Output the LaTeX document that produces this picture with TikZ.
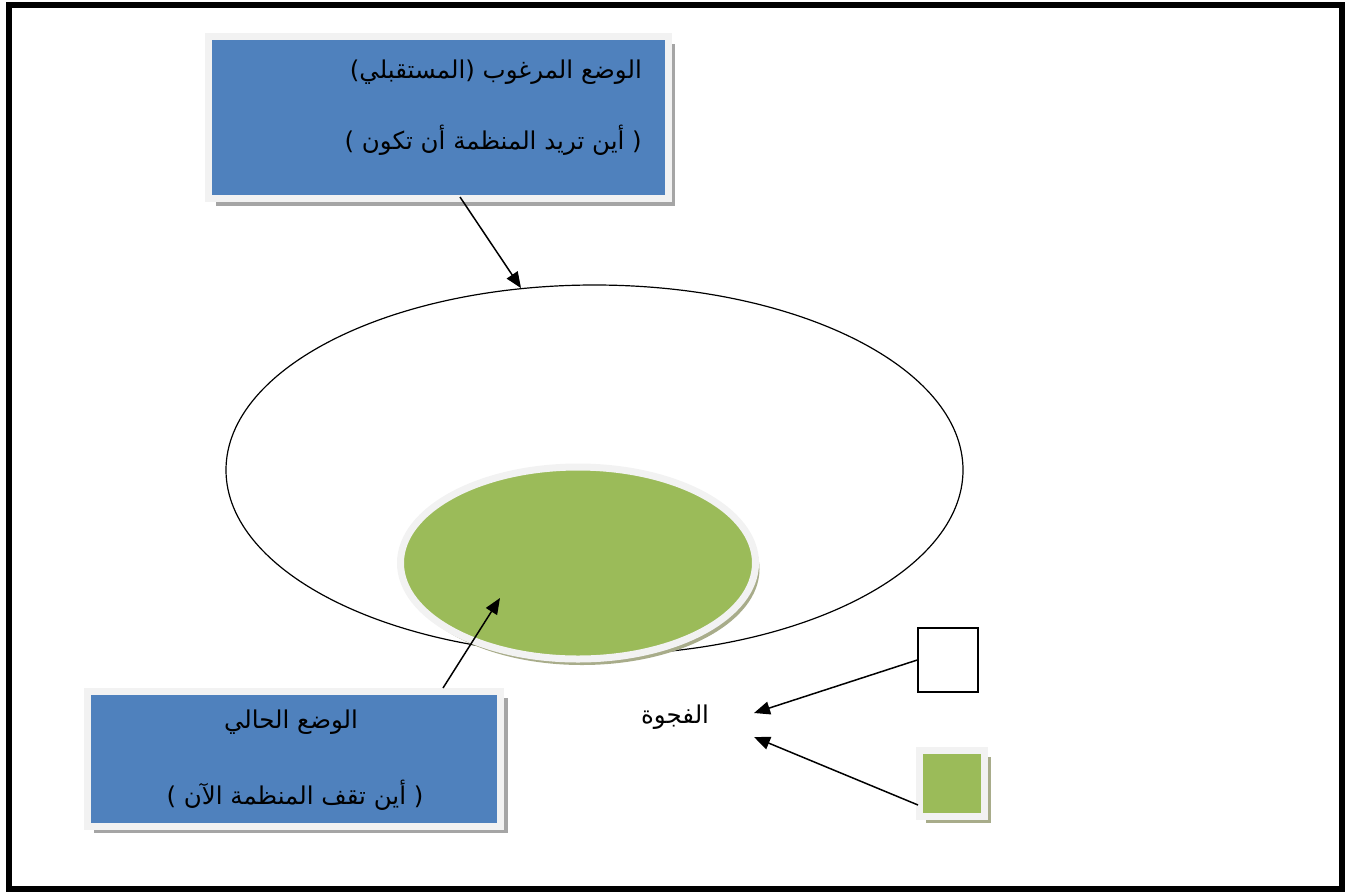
\documentclass[tikz,border=0pt]{standalone}
\usepackage{fontspec}
\newfontfamily\arabicfont[Script=Arabic]{DejaVu Sans}
\TeXXeTstate=1
\usetikzlibrary{arrows.meta,shadows,shapes.geometric}
\definecolor{boxblue}{RGB}{79,129,189}
\definecolor{leafgreen}{RGB}{155,187,89}
\definecolor{rimgray}{RGB}{242,242,242}
\definecolor{shadegray}{RGB}{165,165,165}
\definecolor{shadeolive}{RGB}{168,172,138}

\begin{document}
\begin{tikzpicture}[x=1pt,y=-1pt,
  bluebox/.style={draw=rimgray,line width=7pt,fill=boxblue,inner sep=0pt,
    drop shadow={shadow xshift=7pt,shadow yshift=-7pt,fill=shadegray,opacity=1}},
  lbl/.style={font=\arabicfont\fontsize{24.5}{28}\selectfont,inner sep=0pt},
  arr/.style={-{Triangle[length=16pt,width=13pt]},line width=1.5pt}]
\useasboundingbox (0,0) rectangle (1348,892);
\draw[line width=6pt] (9,5) rectangle (1342,889);

% the two states
\node[draw,ellipse,line width=1.2pt,inner sep=0pt,minimum width=737pt,minimum height=370pt] (future) at (594.5,470) {};
\node[ellipse,draw=rimgray,line width=7pt,fill=leafgreen,inner sep=0pt,minimum width=355pt,minimum height=192pt,
  drop shadow={shadow xshift=4pt,shadow yshift=-6pt,fill=shadeolive,opacity=1}] (now) at (578,563) {};

% boxes
\node[bluebox,minimum width=459.5pt,minimum height=162pt] (wantbox) at (438.25,117.5) {};
\node[lbl,anchor=east] (want1) at (642,72) {\beginR الوضع المرغوب (المستقبلي)\endR};
\node[lbl,anchor=east] (want2) at (642,140) {\beginR ( أين تريد المنظمة أن تكون )\endR};

\node[bluebox,minimum width=413.5pt,minimum height=135pt] (nowbox) at (293.75,758.5) {};
\node[lbl] (now1) at (291,722) {\beginR الوضع الحالي\endR};
\node[lbl] (now2) at (295,795) {\beginR ( أين تقف المنظمة الآن )\endR};

% legend
\node[draw,line width=1.5pt,inner sep=0pt,minimum width=60pt,minimum height=64pt] (emptysq) at (948,660) {};
\node[draw=rimgray,line width=7pt,fill=leafgreen,inner sep=0pt,minimum width=65pt,minimum height=66pt,
  drop shadow={shadow xshift=6pt,shadow yshift=-6pt,fill=shadeolive,opacity=1}] (greensq) at (952,783.5) {};
\node[lbl] (gap) at (675,717) {\beginR الفجوة\endR};

% arrows
\coordinate (a1) at (460,197);
\coordinate (a2) at (443,688);
\coordinate (a2e) at (500,598);
\coordinate (g1) at (754,713);
\coordinate (g2) at (754,737);
\coordinate (a4) at (918,805);
\draw[arr] (a1) -- (future.112);
\draw[arr] (a2) -- (a2e);
\draw[arr] (emptysq.west) -- (g1);
\draw[arr] (a4) -- (g2);
\end{tikzpicture}
\end{document}
